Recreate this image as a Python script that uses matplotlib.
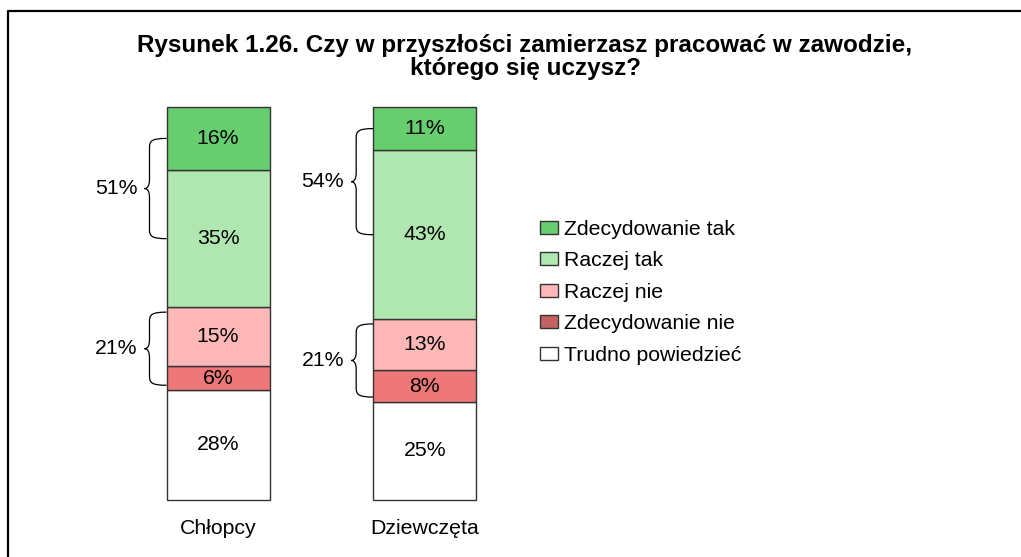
import matplotlib
matplotlib.use("Agg")
import matplotlib.pyplot as plt
from matplotlib.patches import Patch, PathPatch
from matplotlib.path import Path
from matplotlib.lines import Line2D

plt.rcParams['font.family'] = ['Liberation Sans', 'DejaVu Sans']

title = "Rysunek 1.26. Czy w przyszłości zamierzasz pracować w zawodzie,\nktórego się uczysz?"
categories = ["Chłopcy", "Dziewczęta"]
series = ["Trudno powiedzieć", "Zdecydowanie nie", "Raczej nie", "Raczej tak", "Zdecydowanie tak"]
values = {
    "Trudno powiedzieć": [28, 25],
    "Zdecydowanie nie": [6, 8],
    "Raczej nie": [15, 13],
    "Raczej tak": [35, 43],
    "Zdecydowanie tak": [16, 11],
}
yes_totals = [51, 54]
no_totals = [21, 21]
legend_order = ["Zdecydowanie tak", "Raczej tak", "Raczej nie", "Zdecydowanie nie", "Trudno powiedzieć"]

colors = {
    "Zdecydowanie tak": "#66CE6E",
    "Raczej tak": "#B0E6B0",
    "Raczej nie": "#FFB8B8",
    "Zdecydowanie nie": "#EE7777",
    "Trudno powiedzieć": "#FFFFFF",
}
legend_colors = dict(colors)
legend_colors["Zdecydowanie nie"] = "#C46262"

FS = 15.3
W, H = 1021, 557
fig = plt.figure(figsize=(W / 100, H / 100), dpi=100)

# axes geometry (pixels)
bar_px = 206.7
c0_px = 218
ax_left_px, ax_right_px = 40, 520
ax_top_px, ax_bot_px = 107, 500
ax = fig.add_axes([ax_left_px / W, (H - ax_bot_px) / H,
                   (ax_right_px - ax_left_px) / W, (ax_bot_px - ax_top_px) / H])
ax.set_xlim((ax_left_px - c0_px) / bar_px, (ax_right_px - c0_px) / bar_px)
ax.set_ylim(0, 100)
ax.axis('off')

bw = 103 / bar_px
xs = list(range(len(categories)))
bottoms = [0] * len(categories)
seg = {}
for s in series:
    vals = values[s]
    bars = ax.bar(xs, vals, bw, bottom=bottoms, color=colors[s], edgecolor="#333333",
                  linewidth=1.0, zorder=2)
    for b in bars:
        b.set_clip_on(False)
    for i, v in enumerate(vals):
        ax.text(xs[i], bottoms[i] + v / 2, f"{v}%", ha='center', va='center',
                fontsize=FS, color='black', zorder=3)
        seg.setdefault(s, []).append((bottoms[i], bottoms[i] + v))
    bottoms = [b + v for b, v in zip(bottoms, vals)]

for i, c in enumerate(categories):
    ax.text(xs[i], -7.3, c, ha='center', va='center', fontsize=FS, clip_on=False)

px_y = 100 / (ax_bot_px - ax_top_px)   # data units per pixel (y)
px_x = 1 / bar_px                      # data units per pixel (x)


def brace(x0, yt, yb):
    xs_ = x0 - 17 * px_x
    xt = x0 - 22 * px_x
    ym = (yt + yb) / 2
    r = 9 * px_y
    verts = [
        (x0, yt),
        (xs_ + 2 * px_x, yt), (xs_, yt - r * 0.3), (xs_, yt - r),
        (xs_, ym + r),
        (xs_, ym + r * 0.3), (xs_ - 2 * px_x, ym), (xt, ym),
        (xs_ - 2 * px_x, ym), (xs_, ym - r * 0.3), (xs_, ym - r),
        (xs_, yb + r),
        (xs_, yb + r * 0.3), (xs_ + 2 * px_x, yb), (x0, yb),
    ]
    codes = [Path.MOVETO,
             Path.CURVE4, Path.CURVE4, Path.CURVE4,
             Path.LINETO,
             Path.CURVE4, Path.CURVE4, Path.CURVE4,
             Path.CURVE4, Path.CURVE4, Path.CURVE4,
             Path.LINETO,
             Path.CURVE4, Path.CURVE4, Path.CURVE4]
    ax.add_patch(PathPatch(Path(verts, codes), facecolor='none', edgecolor='black',
                           linewidth=0.9, zorder=4, clip_on=False))
    return xt, ym


for i in range(len(categories)):
    x0 = xs[i] - bw / 2
    # yes brace: from middle of top segment to middle of second segment
    t0, t1 = seg["Zdecydowanie tak"][i]
    r0, r1 = seg["Raczej tak"][i]
    xt, ym = brace(x0, (t0 + t1) / 2, (r0 + r1) / 2)
    ax.text(xt - 7 * px_x, ym, f"{yes_totals[i]}%", ha='right', va='center', fontsize=FS)
    # no brace: spanning the two red segments
    n0, n1 = seg["Raczej nie"][i]
    z0, z1 = seg["Zdecydowanie nie"][i]
    xt, ym = brace(x0, n1 - 1.2, z0 + 1.2)
    ax.text(xt - 7 * px_x, ym, f"{no_totals[i]}%", ha='right', va='center', fontsize=FS)

handles = [Patch(facecolor=legend_colors[s], edgecolor='#333333', linewidth=1.0) for s in legend_order]
fig.legend(handles, legend_order, loc='upper left',
           bbox_to_anchor=(540 / W, 1 - 220 / H), frameon=False, fontsize=FS,
           handlelength=0.85, handleheight=0.57, handletextpad=0.28,
           labelspacing=0.585, borderpad=0, borderaxespad=0)

fig.text(525 / W, 1 - 57 / H, title, ha='center', va='center', fontsize=17.5,
         fontweight='bold', linespacing=1.03)

# outer frame (left and top edges visible)
fig.add_artist(Line2D([8 / W, 8 / W, 1.0], [0.0, 1 - 11 / H, 1 - 11 / H],
                      transform=fig.transFigure, color='black', linewidth=1.6))

fig.savefig("out.png", dpi=100, facecolor='white')
